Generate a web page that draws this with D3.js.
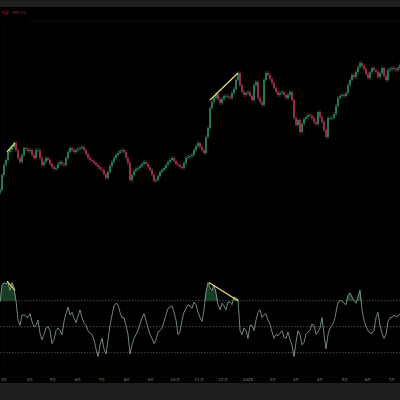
<!DOCTYPE html>
<html><head><meta charset="utf-8">
<script src="https://cdn.jsdelivr.net/npm/d3@7"></script>
<style>html,body{margin:0;padding:0;background:#000;}svg{display:block;}</style>
</head><body>
<script>
const closes = [70,85,95,100,108,110,113,117,110,102,98,105,112,111,109,110,105,102,110,110,102,95,98,102,100,96,93,91,92,96,98,96,95,102,108,112,110,108,110,111,112,113,110,106,102,100,99,97,95,93,91,90,86,82,88,94,98,102,105,107,109,110,108,102,97,80,85,89,91,92,94,96,98,96,93,90,85,79,80,84,88,90,92,95,98,100,102,99,96,95,93,92,97,102,103,104,105,110,114,117,
113,110,107,123,132,152,158,162,166,161,157,161,164,164,163,162,167,171,180,187,175,168,165,167,168,164,160,175,178,162,158,155,180,187,185,181,177,172,168,165,167,168,165,162,165,168,160,142,135,140,128,136,141,143,145,144,142,138,136,148,143,138,130,123,142,142,142,146,154,162,164,165,164,167,175,180,185,183,188,193,197,194,191,186,182,188,192,190,188,183,187,192,184,180,190,191,192,191,190,192,195];
const rsi = [69,82,84,83,84,78,84,80,70,55,51,59,59,58,57,60,54,50,51,55,45,40,44,49,50,47,37,40,47,49,47,44,54,60,65,59,61,57,53,58,63,57,53,51,47,45,44,40,33,27,36,41,33,29,40,51,59,66,68,67,61,57,57,51,44,29,36,41,44,47,52,57,60,55,49,44,41,37,40,46,47,49,54,59,64,65,66,61,55,44,46,55,61,64,67,66,64,69,67,61,
57,54,63,77,84,80,78,82,76,67,63,68,66,63,69,69,67,73,72,71,47,44,49,47,41,51,51,47,55,61,63,57,59,60,55,52,46,41,44,43,45,47,42,41,46,40,36,27,38,47,44,36,38,44,46,47,52,51,44,46,49,57,44,33,44,49,51,54,61,69,70,70,68,67,74,76,73,70,68,73,78,63,55,50,47,45,45,47,57,61,51,45,41,44,54,57,57,59,58,58,60];
const monthLabels = ["3月","4月","5月","6月","7月","8月","9月","10月","11月","12月","2025","2月","3月","4月","5月","6月","7月"];
const monthIdx = [2,15,26.5,39,51,63.5,75.5,87.5,99.5,111.5,124,136.5,148,160,172.5,184,196];
const priceDiv = [[3.5,108],[7.5,117],[105,160],[119,187]];
const rsiDiv = [[3.5,85],[7.5,78],[104.5,84],[119,70]];

const W=400,H=400;
const svg=d3.select("body").append("svg").attr("width",W).attr("height",H).style("background","#000");
svg.append("rect").attr("x",0).attr("y",0).attr("width",W).attr("height",7).attr("fill","#1e1e1e");
svg.append("rect").attr("x",0).attr("y",383).attr("width",W).attr("height",17).attr("fill","#1e1e1e");
svg.append("text").attr("x",1).attr("y",14).attr("font-size",4).attr("fill","#a02848").attr("font-family","DejaVu Sans").text("日足 · RSI 14");
svg.append("line").attr("x1",28).attr("x2",W).attr("y1",21).attr("y2",21).attr("stroke","#1a1a1a").attr("stroke-width",0.6);

const x=d3.scaleLinear().domain([0,200]).range([0,400]);
const y=d3.scaleLinear().domain([0,250]).range([260,10]);
const yr=d3.scaleLinear().domain([30,70]).range([352.7,300.7]);

svg.append("g").selectAll("line").data(monthIdx).join("line")
  .attr("x1",d=>x(d)).attr("x2",d=>x(d)).attr("y1",22).attr("y2",372)
  .attr("stroke","#090909").attr("stroke-width",0.6);

const candles=closes.map((c,i)=>{const o=i?closes[i-1]:c-3;return {i,o,c,h:Math.max(o,c)+2,l:Math.min(o,c)-2};});
const g=svg.append("g");
g.selectAll("line").data(candles).join("line")
  .attr("x1",d=>x(d.i)).attr("x2",d=>x(d.i)).attr("y1",d=>y(d.h)).attr("y2",d=>y(d.l))
  .attr("stroke",d=>d.c>=d.o?"#2f9a6c":"#c23a5e").attr("stroke-width",0.5);
g.selectAll("rect").data(candles).join("rect")
  .attr("x",d=>x(d.i)-0.7).attr("width",1.4)
  .attr("y",d=>y(Math.max(d.o,d.c))).attr("height",d=>Math.max(0.6,Math.abs(y(d.o)-y(d.c))))
  .attr("fill",d=>d.c>=d.o?"#2f9a6c":"#c23a5e");

const yl=d3.line().x(d=>x(d[0])).y(d=>y(d[1]));
svg.append("path").attr("d",yl(priceDiv.slice(0,2))).attr("stroke","#f0e060").attr("stroke-width",1.2).attr("fill","none");
svg.append("path").attr("d",yl(priceDiv.slice(2))).attr("stroke","#f0e060").attr("stroke-width",1.2).attr("fill","none");

[70,50,30].forEach(v=>svg.append("line").attr("x1",0).attr("x2",W).attr("y1",yr(v)).attr("y2",yr(v))
  .attr("stroke","#777").attr("stroke-width",0.6).attr("stroke-dasharray","1.5,1.5"));
const area=d3.area().x((d,i)=>x(i)).y0(yr(70)).y1(d=>yr(Math.max(70,d)));
svg.append("path").attr("d",area(rsi)).attr("fill","#2f7a48").attr("opacity",0.5);
svg.append("path").attr("d",d3.line().x((d,i)=>x(i)).y(d=>yr(d))(rsi)).attr("stroke","#9fbfa8").attr("stroke-width",0.7).attr("fill","none");
const rl=d3.line().x(d=>x(d[0])).y(d=>yr(d[1]));
svg.append("path").attr("d",rl(rsiDiv.slice(0,2))).attr("stroke","#f0e060").attr("stroke-width",1.2).attr("fill","none");
svg.append("path").attr("d",rl(rsiDiv.slice(2))).attr("stroke","#f0e060").attr("stroke-width",1.2).attr("fill","none");

svg.append("g").selectAll("text").data(monthLabels).join("text")
  .attr("x",(d,i)=>x(monthIdx[i])).attr("y",381).attr("text-anchor","middle")
  .attr("font-size",4).attr("fill","#888").attr("font-family","DejaVu Sans").text(d=>d);
</script>
</body></html>
